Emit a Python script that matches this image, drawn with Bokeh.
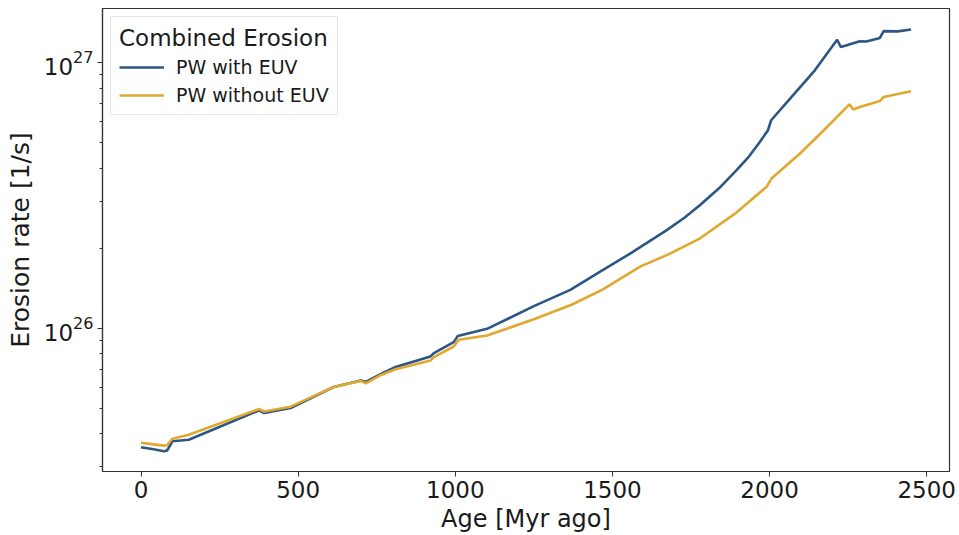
from bokeh.plotting import figure
from bokeh.models import Legend, LegendItem, FixedTicker, Range1d
from bokeh.embed import file_html
from bokeh.resources import INLINE

# Combined erosion rate versus age, with and without EUV
age_with_euv = [0, 40, 73, 83, 100, 152, 376, 392, 476, 613, 699, 715, 762, 810,
                921, 932, 995, 1008, 1101, 1250, 1366, 1461, 1560, 1673, 1730,
                1779, 1840, 1895, 1935, 1969, 1995, 2005, 2075, 2144, 2215, 2227,
                2287, 2308, 2351, 2363, 2408, 2450]
rate_with_euv = [3.56e25, 3.50e25, 3.44e25, 3.46e25, 3.75e25, 3.80e25, 4.90e25,
                 4.79e25, 5.00e25, 6.00e25, 6.35e25, 6.28e25, 6.71e25, 7.14e25,
                 7.82e25, 8.05e25, 8.86e25, 9.35e25, 9.94e25, 1.21e26, 1.393e26,
                 1.632e26, 1.92e26, 2.34e26, 2.61e26, 2.91e26, 3.37e26, 3.94e26,
                 4.44e26, 5.03e26, 5.57e26, 6.07e26, 7.55e26, 9.36e26, 1.22e27,
                 1.145e27, 1.205e27, 1.202e27, 1.24e27, 1.315e27, 1.312e27, 1.334e27]

age_without_euv = [0, 40, 73, 83, 100, 152, 376, 392, 476, 613, 699, 715, 762, 810,
                   921, 932, 995, 1011, 1101, 1250, 1370, 1470, 1588, 1680, 1779,
                   1890, 1991, 2006, 2097, 2175, 2254, 2266, 2287, 2351, 2363, 2450]
rate_without_euv = [3.70e25, 3.65e25, 3.61e25, 3.62e25, 3.83e25, 3.97e25, 4.96e25,
                    4.85e25, 5.06e25, 6.00e25, 6.33e25, 6.19e25, 6.65e25, 7.00e25,
                    7.55e25, 7.78e25, 8.53e25, 9.04e25, 9.38e25, 1.08e26, 1.225e26,
                    1.40e26, 1.705e26, 1.90e26, 2.18e26, 2.70e26, 3.41e26, 3.66e26,
                    4.55e26, 5.60e26, 6.97e26, 6.66e26, 6.81e26, 7.17e26, 7.43e26,
                    7.80e26]

x_ticks = [0, 500, 1000, 1500, 2000, 2500]
y_major = [1e26, 1e27]
y_minor = [m * 1e25 for m in range(3, 10)] + [m * 1e26 for m in range(2, 10)]

BLUE = "#2c5684"
GOLD = "#e0a82e"
FONT = "DejaVu Sans"
AXIS_COLOR = "#333333"

p = figure(width=959, height=535, y_axis_type="log",
           x_range=Range1d(-122.5, 2572.5), y_range=Range1d(2.884e25, 1.60e27),
           output_backend="svg", toolbar_location=None,
           min_border_left=102, min_border_right=10,
           min_border_top=8, min_border_bottom=63)
p.background_fill_color = "white"
p.border_fill_color = "white"
p.grid.visible = False
p.outline_line_color = AXIS_COLOR
p.outline_line_width = 1.2

r_with = p.line(age_with_euv, rate_with_euv, line_color=BLUE, line_width=2.6)
r_without = p.line(age_without_euv, rate_without_euv, line_color=GOLD, line_width=2.6)

p.xaxis.ticker = FixedTicker(ticks=x_ticks)
p.yaxis.ticker = FixedTicker(ticks=y_major, minor_ticks=y_minor)

for ax in (p.xaxis, p.yaxis):
    ax.axis_line_color = AXIS_COLOR
    ax.axis_line_width = 1.2
    ax.major_tick_line_color = AXIS_COLOR
    ax.minor_tick_line_color = AXIS_COLOR
    ax.major_tick_in = 0
    ax.major_tick_out = 5
    ax.minor_tick_in = 0
    ax.minor_tick_out = 3
    ax.major_label_text_font = FONT
    ax.major_label_text_font_size = "23px"
    ax.major_label_text_color = "#1a1a1a"
    ax.axis_label_text_font = FONT
    ax.axis_label_text_font_style = "normal"
    ax.axis_label_text_color = "#1a1a1a"
    ax.major_label_standoff = 4

p.xaxis.minor_tick_line_color = None
p.xaxis.axis_label = "Age [Myr ago]"
p.yaxis.axis_label = "Erosion rate [1/s]"
p.xaxis.axis_label_text_font_size = "24px"
p.yaxis.axis_label_text_font_size = "25px"
p.xaxis.axis_label_standoff = 4
p.yaxis.axis_label_standoff = 6

legend = Legend(items=[LegendItem(label="PW with EUV", renderers=[r_with]),
                       LegendItem(label="PW without EUV", renderers=[r_without])],
                location="top_left", margin=8, padding=8,
                title="Combined Erosion")
legend.title_text_font = FONT
legend.title_text_font_size = "23px"
legend.title_text_font_style = "normal"
legend.title_text_color = "#1a1a1a"
legend.title_standoff = 5
legend.label_text_font = FONT
legend.label_text_font_size = "19px"
legend.label_text_color = "#1a1a1a"
legend.glyph_width = 45
legend.glyph_height = 22
legend.label_standoff = 12
legend.spacing = 6
legend.border_line_color = "#cccccc"
legend.border_line_width = 1
legend.background_fill_alpha = 0.85
p.add_layout(legend)

open("out.html", "w").write(file_html(p, INLINE))
